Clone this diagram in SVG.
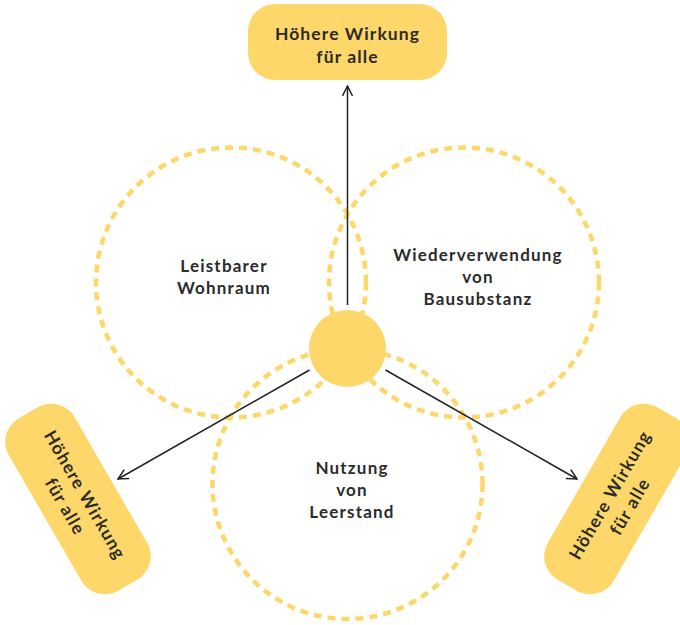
<svg xmlns="http://www.w3.org/2000/svg" width="680" height="625" viewBox="0 0 680 625">
<style>
.ring{fill:none;stroke:#FDD769;stroke-width:4.5;stroke-dasharray:8 6}
.box{fill:#FDD769}
.t{font-family:Lato,"Open Sans",sans-serif;font-weight:700;font-size:17px;letter-spacing:1.2px;fill:#2b2b2b;text-anchor:middle}
.bt{font-family:Lato,"Open Sans",sans-serif;font-weight:700;font-size:17.5px;letter-spacing:1.1px;fill:#2b2b2b;text-anchor:middle}
.c{stroke:#222;stroke-width:1.5;fill:none}
</style>
<defs>
<marker id="ah" viewBox="0 0 12 12" refX="11" refY="6" markerWidth="12" markerHeight="12" markerUnits="userSpaceOnUse" orient="auto">
<path d="M1,1 L11,6 L1,11" fill="none" stroke="#222" stroke-width="1.5"/>
</marker>
</defs>
<g id="circle-wohnraum">
<circle class="ring" cx="231" cy="282.5" r="135"/>
<text class="t" x="224" y="272">Leistbarer</text>
<text class="t" x="224" y="294">Wohnraum</text>
</g>
<g id="circle-bausubstanz">
<circle class="ring" cx="464" cy="282.5" r="135"/>
<text class="t" x="478" y="261">Wiederverwendung</text>
<text class="t" x="478" y="283">von</text>
<text class="t" x="478" y="305">Bausubstanz</text>
</g>
<g id="circle-leerstand">
<circle class="ring" cx="347.5" cy="484" r="135"/>
<text class="t" x="352" y="474">Nutzung</text>
<text class="t" x="352" y="496">von</text>
<text class="t" x="352" y="518">Leerstand</text>
</g>
<g id="center">
<circle cx="347.5" cy="348.5" r="38.5" fill="#FDD769"/>
</g>
<g id="connectors">
<line class="c" x1="347.5" y1="305" x2="347.5" y2="86" marker-end="url(#ah)"/>
<line class="c" x1="309.5" y1="370" x2="118" y2="479" marker-end="url(#ah)"/>
<line class="c" x1="385.5" y1="370" x2="577" y2="479" marker-end="url(#ah)"/>
</g>
<g id="box-top">
<rect class="box" x="248" y="4" width="199" height="76" rx="27"/>
<text class="bt" x="347.5" y="40">Höhere Wirkung</text>
<text class="bt" x="347.5" y="63">für alle</text>
</g>
<g id="box-left" transform="translate(78,499) rotate(60)">
<rect class="box" x="-99.5" y="-38" width="199" height="76" rx="27"/>
<text class="bt" x="0" y="-2">Höhere Wirkung</text>
<text class="bt" x="0" y="21">für alle</text>
</g>
<g id="box-right" transform="translate(617,499) rotate(-60)">
<rect class="box" x="-99.5" y="-38" width="199" height="76" rx="27"/>
<text class="bt" x="0" y="-2">Höhere Wirkung</text>
<text class="bt" x="0" y="21">für alle</text>
</g>
</svg>
